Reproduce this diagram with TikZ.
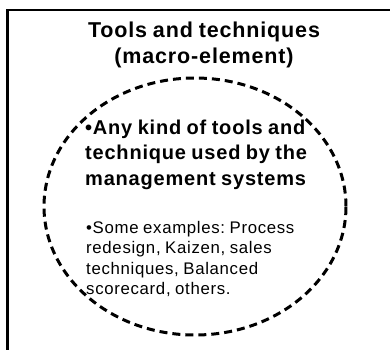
\documentclass[tikz,border=0pt]{standalone}
\usepackage{fontspec}
\setmainfont{Liberation Sans}
\newfontfamily\spacedfont[LetterSpace=4,WordSpace=0.85]{Liberation Sans}
\usetikzlibrary{shapes.geometric}
\frenchspacing

\tikzset{
  headtext/.style={font=\spacedfont\bfseries\fontsize{21.5}{26}\selectfont,align=center,inner sep=0pt},
  aimtext/.style={font=\spacedfont\bfseries\fontsize{20}{25.5}\selectfont,align=left,inner sep=0pt},
  exampletext/.style={font=\spacedfont\fontsize{16.8}{20.5}\selectfont,align=left,inner sep=0pt},
  ring/.style={ellipse,draw,line width=3pt,dash pattern=on 8pt off 5pt,inner sep=0pt}
}

\begin{document}
\begin{tikzpicture}[x=1pt,y=1pt]
\useasboundingbox (0,0) rectangle (390,-349);
\clip (0,0) rectangle (390,-349);

\draw[line width=2.5pt] (7.5,-10) rectangle (400,-360);

\node[headtext,anchor=north] (title) at (204,-21.3) {Tools and techniques\\(macro-element)};

\node[ring,minimum width=302pt,minimum height=257pt] (macro) at (195,-206.5) {};

\node[aimtext,anchor=north west] (aim) at (85,-119.4) {\textbullet Any kind of tools and\\technique used by the\\management systems};

\node[exampletext,anchor=north west] (examples) at (86,-220.7) {\textbullet Some examples: Process\\redesign, Kaizen, sales\\techniques, Balanced\\scorecard, others.};

\end{tikzpicture}
\end{document}
